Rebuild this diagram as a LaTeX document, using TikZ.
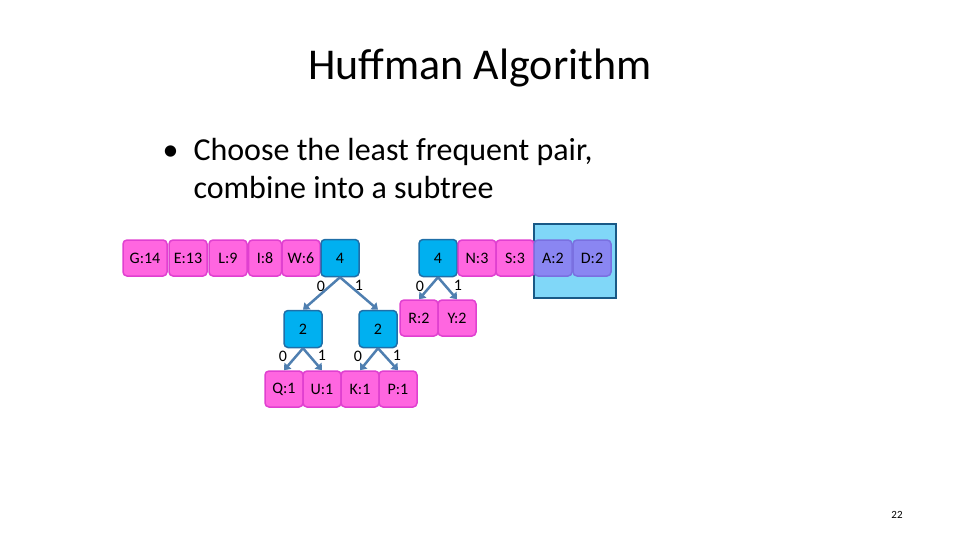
\documentclass[tikz,border=0pt]{standalone}
\usepackage{fontspec}
\setmainfont{Carlito}
\usetikzlibrary{arrows.meta}
\definecolor{pk}{HTML}{FF66E0}
\definecolor{pkd}{HTML}{E040D0}
\definecolor{bl}{HTML}{00B0F0}
\definecolor{bld}{HTML}{1F6FA8}
\definecolor{ar}{HTML}{4F7FB0}
\definecolor{lav}{HTML}{8A86F2}
\definecolor{lavd}{HTML}{7A70E0}
\begin{document}
\begin{tikzpicture}[x=1pt,y=-1pt,
 box/.style={draw=pkd,fill=pk,line width=1.5pt,rounded corners=4pt,minimum width=#1,minimum height=36pt,inner sep=0pt,font=\fontsize{16}{18}\selectfont},
 box/.default=38pt,
 inn/.style={draw=bld,fill=bl,line width=1.5pt,rounded corners=4pt,minimum width=38pt,minimum height=37pt,inner sep=0pt,font=\fontsize{16}{18}\selectfont},
 lbl/.style={font=\fontsize{16}{18}\selectfont,inner sep=0pt},
 arr/.style={draw=ar,line width=2.5pt,-{Triangle[length=6pt,width=9pt]}}]
\useasboundingbox (0,0) rectangle (960,540);
\node[font=\fontsize{44}{50}\selectfont] (title) at (480,68) {Huffman Algorithm};
\node[anchor=west,font=\fontsize{32}{38}\selectfont,align=left] (bul) at (190,169) {\llap{•\hspace{15pt}}Choose the least frequent pair,\\combine into a subtree};
\fill[fill=bl!50!white,draw=bld!80!black,line width=2pt] (534,224) rectangle (616,298);
\node[box=44pt] (G) at (145,258) {G:14};
\node[box] (E) at (188,258) {E:13};
\node[box] (L) at (228,258) {L:9};
\node[box=33pt] (I) at (265,258) {I:8};
\node[box] (W) at (301,258) {W:6};
\node[inn] (a4) at (340,258) {4};
\node[inn] (b4) at (438,258) {4};
\node[box] (N) at (477,258) {N:3};
\node[box] (S) at (515,258) {S:3};
\node[box,fill=lav,draw=lavd] (A) at (553,258) {A:2};
\node[box,fill=lav,draw=lavd] (D) at (592,258) {D:2};
\node[inn] (c2) at (303,329) {2};
\node[inn] (d2) at (378,329) {2};
\node[box] (R) at (419,318) {R:2};
\node[box] (Y) at (457,318) {Y:2};
\node[box] (Q) at (284,389) {Q:1};
\node[box] (U) at (322,389) {U:1};
\node[box] (K) at (360,389) {K:1};
\node[box] (P) at (398,389) {P:1};
\draw[arr] (a4.south) -- (c2.north);
\draw[arr] (a4.south) -- (d2.north);
\draw[arr] (b4.south) -- (R.north);
\draw[arr] (b4.south) -- (Y.north);
\draw[arr] (c2.south) -- (Q.north);
\draw[arr] (c2.south) -- (U.north);
\draw[arr] (d2.south) -- (K.north);
\draw[arr] (d2.south) -- (P.north);
\node[lbl] (l1) at (321,286) {0};
\node[lbl] (l2) at (359,285) {1};
\node[lbl] (l3) at (420,286) {0};
\node[lbl] (l4) at (458,285) {1};
\node[lbl] (l5) at (283,356) {0};
\node[lbl] (l6) at (322,355) {1};
\node[lbl] (l7) at (358,356) {0};
\node[lbl] (l8) at (397,355) {1};
\node[font=\fontsize{11}{13}\selectfont] (pg) at (897,515) {22};
\end{tikzpicture}
\end{document}
